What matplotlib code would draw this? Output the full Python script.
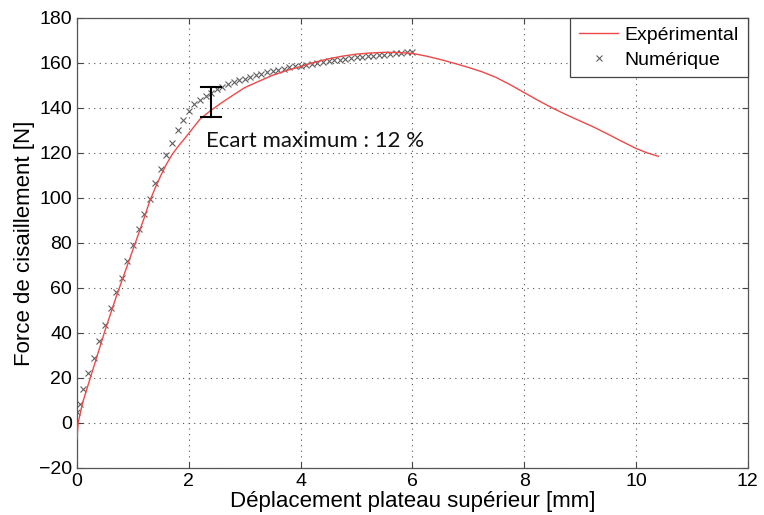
import numpy as np
import matplotlib
matplotlib.use('Agg')
import matplotlib.pyplot as plt

exp_x = [0.0, 0.02, 0.1, 0.2, 0.3, 0.4, 0.5, 0.6, 0.7, 0.8, 0.9, 1.0, 1.1, 1.2,
         1.3, 1.4, 1.5, 1.6, 1.7, 1.8, 1.9, 2.0, 2.2, 2.4, 2.6, 2.8, 3.0, 3.25,
         3.5, 3.75, 4.0, 4.25, 4.5, 4.75, 5.0, 5.25, 5.5, 5.75, 6.0, 6.25, 6.5,
         6.75, 7.0, 7.25, 7.5, 7.75, 8.0, 8.25, 8.5, 8.75, 9.0, 9.25, 9.5, 9.75,
         10.0, 10.2, 10.4]
exp_y = [-7, 0, 9, 17, 25, 33, 41, 48.5, 56, 63, 70, 77, 84, 91,
         98.5, 104.5, 110, 115, 119.2, 122.6, 125.6, 128.7, 135, 139, 142.5, 145.8, 149, 151.8,
         154.5, 156.6, 158.4, 160.3, 161.8, 163, 163.9, 164.4, 164.7, 164.6, 164.2, 163, 161.5,
         159.8, 158, 156, 153.5, 150.3, 146.8, 143.3, 140, 137, 134.2, 131.4, 128.3, 125.1,
         122, 120, 118.5]

# numerical results
num_x = [0.0, 0.05, 0.1, 0.2, 0.3, 0.4, 0.5, 0.6, 0.7, 0.8, 0.9, 1.0, 1.1, 1.2,
         1.3, 1.4, 1.5, 1.6, 1.7, 1.8, 1.9, 2.0, 2.1, 2.2, 2.3, 2.4, 2.5, 2.6,
         2.7, 2.8, 2.9, 3.0, 3.1, 3.2, 3.3, 3.4, 3.5, 3.6, 3.7, 3.8, 3.9, 4.0,
         4.1, 4.2, 4.3, 4.4, 4.5, 4.6, 4.7, 4.8, 4.9, 5.0, 5.1, 5.2, 5.3, 5.4,
         5.5, 5.6, 5.7, 5.8, 5.9, 6.0]
num_y = [5, 8.5, 15, 22, 29, 36.5, 43.5, 51, 58, 64.5, 72, 79, 86, 93,
         99.5, 106.5, 113, 119, 124.5, 130, 134.5, 138.8, 141.8, 143.6, 145.3, 146.8, 148.2, 149.4,
         150.5, 151.4, 152.2, 153, 153.8, 154.5, 155.2, 155.8, 156.4, 157, 157.5, 158, 158.4, 158.8,
         159.2, 159.7, 160.1, 160.4, 160.8, 161.1, 161.5, 161.8, 162.1, 162.4, 162.7, 163, 163.2, 163.5,
         163.7, 164, 164.2, 164.4, 164.7, 165]

# max gap marker
gap_x = 2.39
gap_lo = 136
gap_hi = 149.5

plt.rcParams['font.family'] = ['Liberation Sans', 'DejaVu Sans']

fig = plt.figure(figsize=(7.64, 5.15), dpi=100)
ax = fig.add_axes([0.1008, 0.0913, 0.878, 0.874])

ax.plot(exp_x, exp_y, color='#f04848', lw=1.0, label='Expérimental', zorder=3)
ax.plot(num_x, num_y, ls='none', marker='x', ms=4.5, mew=0.8,
        color='#606060', label='Numérique', zorder=2)

# error bar "I"
ax.plot([gap_x, gap_x], [gap_lo, gap_hi], color='black', lw=1.5, zorder=4)
ax.plot([gap_x - 0.18, gap_x + 0.18], [gap_hi, gap_hi], color='black', lw=1.5, zorder=4)
ax.plot([gap_x - 0.18, gap_x + 0.18], [gap_lo, gap_lo], color='black', lw=1.5, zorder=4)
ax.text(2.3, 125.5, 'Ecart maximum : 12 %', fontsize=16, family=['Lato', 'DejaVu Sans'],
        va='center', ha='left', color='#111111')

ax.set_xlim(0, 12)
ax.set_ylim(-20, 180)
ax.set_xticks(np.arange(0, 13, 2))
ax.set_yticks(np.arange(-20, 181, 20))
ax.tick_params(direction='in', top=True, right=True, length=4, labelsize=14, color='#444444')
for s in ax.spines.values():
    s.set_color('#555555')
    s.set_linewidth(0.9)

ax.grid(True, color='#555555', linestyle=(0, (1, 4)), linewidth=0.8)
ax.set_axisbelow(True)

ax.set_xlabel('Déplacement plateau supérieur [mm]', fontsize=16, labelpad=1)
ax.set_ylabel('Force de cisaillement [N]', fontsize=16, labelpad=3)

leg = ax.legend(loc='upper right', borderaxespad=0, fancybox=False, fontsize=14,
                edgecolor='#444444', framealpha=1, handlelength=2.0, handletextpad=0.35,
                labelspacing=0.35, borderpad=0.45)
leg.get_frame().set_linewidth(0.9)

fig.savefig('out.png', dpi=100)
